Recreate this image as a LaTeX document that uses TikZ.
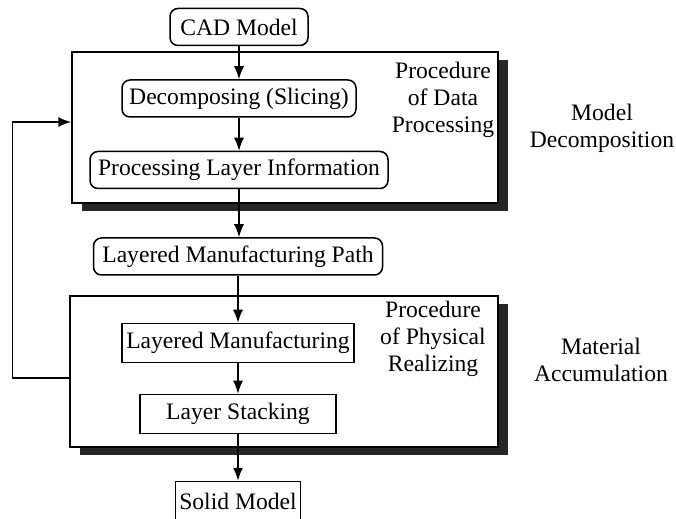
\documentclass[tikz,border=0pt]{standalone}
\usepackage{fontspec}
\setmainfont{Liberation Serif}
\usetikzlibrary{arrows.meta, shadows, positioning}

\begin{document}
\begin{tikzpicture}[x=0.5pt, y=-0.5pt, >={Latex[length=6.5pt,width=5pt]}, line width=0.75pt,
        every node/.style={font=\fontsize{11.8}{13.5}\selectfont},
        roundbox/.style={draw, rounded corners=4pt, minimum height=18.5pt, inner sep=0pt},
        sharpbox/.style={draw, minimum height=19.5pt, inner sep=0pt},
        frame/.style={draw, fill=white, inner sep=0pt, minimum height=75.5pt,
            drop shadow={shadow xshift=5pt, shadow yshift=-4pt, fill=black!85, opacity=1}},
        sidetext/.style={align=center}]
        \useasboundingbox (0,0) rectangle (676,519);
        % the two procedures
        \node[frame, minimum width=213pt] (dataframe) at (285,127.5) {};
        \node[frame, minimum width=214pt] (physframe) at (284,371.5) {};
        \node[sidetext] (datatext) at (443,99.5) {Procedure\\of Data\\Processing};
        \node[sidetext] (phystext) at (433,339) {Procedure\\of Physical\\Realizing};
        \node[sidetext] (decomp) at (602,128) {Model\\Decomposition};
        \node[sidetext] (accum) at (601,360) {Material\\Accumulation};
        % steps
        \node[roundbox, minimum width=69pt] (cad) at (239,27) {CAD Model};
        \node[roundbox, minimum width=117pt] (slicing) at (239,98.5) {Decomposing (Slicing)};
        \node[roundbox, minimum width=149pt] (layerinfo) at (239,170) {Processing Layer Information};
        \node[roundbox, minimum width=144.5pt] (path) at (238,256.5) {Layered Manufacturing Path};
        \node[sharpbox, minimum width=116pt] (manuf) at (238,343) {Layered Manufacturing};
        \node[sharpbox, minimum width=98pt] (stacking) at (238,414) {Layer Stacking};
        \node[sharpbox, minimum width=62.5pt] (solid) at (238,501) {Solid Model};
        \draw[->] (cad) -- (cad |- slicing.north);
        \draw[->] (slicing) -- (slicing |- layerinfo.north);
        \draw[->] (layerinfo) -- (layerinfo |- path.north);
        \draw[->] (path) -- (manuf);
        \draw[->] (manuf) -- (stacking);
        \draw[->] (stacking) -- (solid);
        % feedback
        \draw[->] ([yshift=-3.25pt]physframe.west) -- ++(-28.5pt,0) |- ([yshift=2.75pt]dataframe.west);
      \end{tikzpicture}
\end{document}
